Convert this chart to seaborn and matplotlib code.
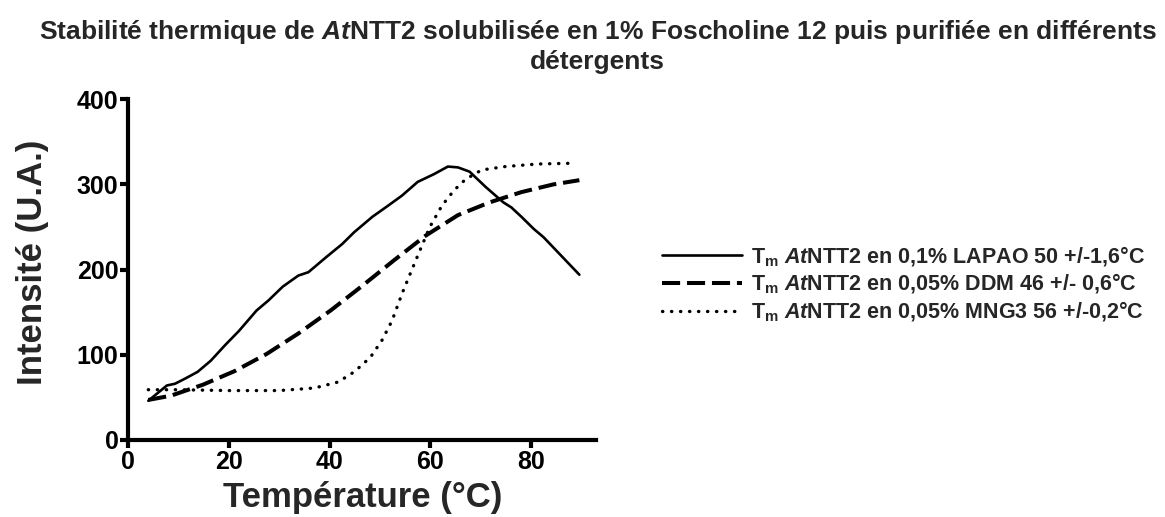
import matplotlib
matplotlib.use("Agg")
import matplotlib.pyplot as plt
import seaborn as sns
import pandas as pd

# Melting curves (temperature in °C, intensity in arbitrary units)
temp_lapao = [4, 7.7, 9.3, 11.3, 13.8, 16.4, 19.2, 22, 25.5, 27.9, 30.7, 33.8, 35.8, 39.4,
              42.5, 44.9, 48.5, 51.6, 54.4, 57.5, 60.7, 63.5, 65.5, 67.8, 71, 74.5, 76.1,
              78.1, 80.5, 82.5, 89.6]
int_lapao = [46, 64, 66, 72, 80, 93, 111, 128, 152, 164, 180, 193, 197, 215,
             230, 244, 262, 275, 287, 303, 312, 321, 320, 315, 297, 279, 273,
             262, 248, 238, 194]

temp_ddm = [4, 8.5, 14.9, 21.2, 27.5, 33.8, 40.2, 46.5, 52.8, 59.1, 65.5, 71.8, 78.1, 84.4, 89.6]
int_ddm = [47, 52, 65, 81, 101, 125, 152, 181, 211, 240, 264, 279, 291, 300, 305]

temp_mng3 = [4, 10, 20, 30, 37, 41.7, 44.9, 48.1, 50.4, 52.4, 54.4, 56, 57.9, 59.9,
             62.3, 64.7, 67, 70.2, 74.9, 81.3, 89]
int_mng3 = [59, 59, 58, 58, 61, 68, 80, 97, 117, 140, 172, 195, 222, 250,
            275, 293, 306, 317, 321, 324, 325]

labels = [
    r"T$_{m}$ $\mathit{At}$NTT2 en 0,1% LAPAO 50 +/-1,6°C",
    r"T$_{m}$ $\mathit{At}$NTT2 en 0,05% DDM 46 +/- 0,6°C",
    r"T$_{m}$ $\mathit{At}$NTT2 en 0,05% MNG3 56 +/-0,2°C",
]

sns.set_theme(style="ticks")
plt.rcParams["font.family"] = ["Liberation Sans", "DejaVu Sans"]
plt.rcParams["font.weight"] = "bold"
plt.rcParams["mathtext.fontset"] = "custom"
plt.rcParams["mathtext.rm"] = "Liberation Sans:bold"
plt.rcParams["mathtext.bf"] = "Liberation Sans:bold"
plt.rcParams["mathtext.it"] = "Liberation Sans:italic:bold"
plt.rcParams["mathtext.default"] = "bf"

fig = plt.figure(figsize=(11.65, 5.17), dpi=100)
ax = fig.add_axes([0.110, 0.149, 0.402, 0.659])

df1 = pd.DataFrame({"T": temp_lapao, "I": int_lapao})
df2 = pd.DataFrame({"T": temp_ddm, "I": int_ddm})
df3 = pd.DataFrame({"T": temp_mng3, "I": int_mng3})

sns.lineplot(data=df1, x="T", y="I", ax=ax, color="black", lw=1.9,
             label=labels[0], sort=False)
sns.lineplot(data=df2, x="T", y="I", ax=ax, color="black", lw=2.9,
             label=labels[1], sort=False)
sns.lineplot(data=df3, x="T", y="I", ax=ax, color="black", lw=2.4,
             label=labels[2], sort=False)
lines = ax.get_lines()
lines[1].set_linestyle((0, (4.5, 1.7)))
lines[2].set_linestyle((0, (0.1, 2.6)))
lines[2].set_dash_capstyle("round")

ax.set_xlim(0, 93)
ax.set_ylim(0, 400)
ax.set_xticks([0, 20, 40, 60, 80])
ax.set_yticks([0, 100, 200, 300, 400])
sns.despine(ax=ax)
for s in ["left", "bottom"]:
    ax.spines[s].set_linewidth(3)
    ax.spines[s].set_color("black")
ax.tick_params(axis="both", direction="out", length=6, width=3, color="black",
               labelsize=18, labelcolor="black", pad=1)
for t in ax.get_xticklabels() + ax.get_yticklabels():
    t.set_fontweight("bold")

ax.set_xlabel("Température (°C)", fontsize=25, fontweight="bold", labelpad=5)
ax.set_ylabel("Intensité (U.A.)", fontsize=25, fontweight="bold", labelpad=20, y=0.522)

leg = ax.legend(loc="center left", bbox_to_anchor=(1.14, 0.457), frameon=False,
                fontsize=15.5, handlelength=3.7, handletextpad=0.45, labelspacing=0.17,
                borderaxespad=0, borderpad=0)
for txt in leg.get_texts():
    txt.set_fontweight("bold")

fig.text(0.513, 0.965,
         r"Stabilité thermique de $\mathit{At}$NTT2 solubilisée en 1% Foscholine 12 puis purifiée en différents" + "\ndétergents",
         ha="center", va="top", fontsize=19, fontweight="bold", linespacing=1.2)

fig.savefig("out.png", dpi=100, facecolor="white")
